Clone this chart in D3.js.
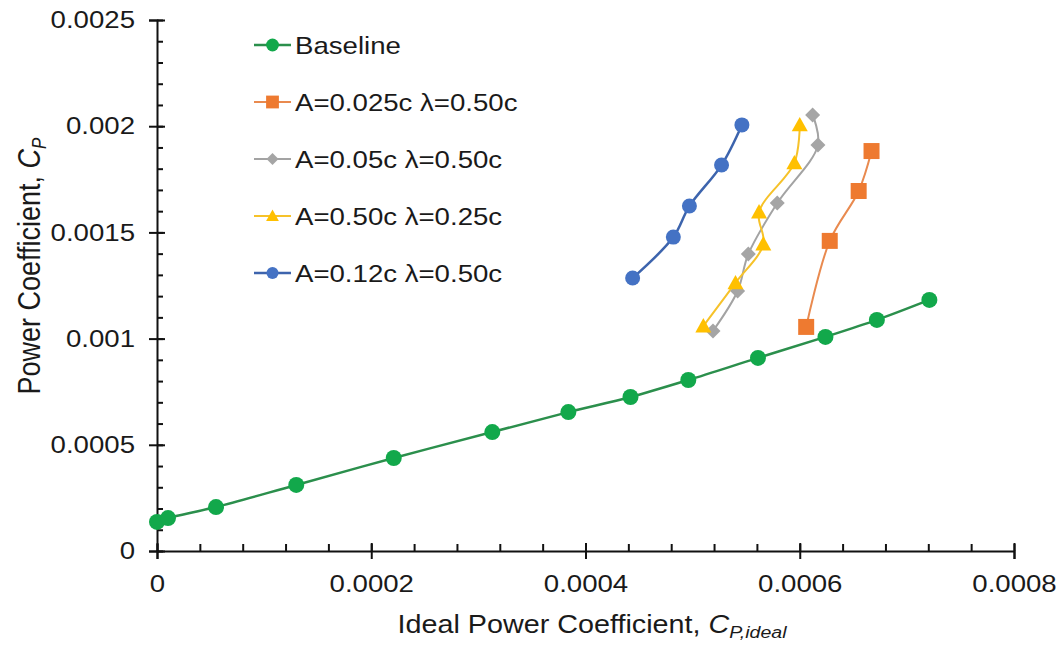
<!DOCTYPE html>
<html><head><meta charset="utf-8">
<script src="https://cdn.jsdelivr.net/npm/d3@7"></script>
<style>
html,body{margin:0;padding:0;background:#fff;}
text{font-family:"Liberation Sans",Arial,sans-serif;fill:#1a1a1a;}
</style></head>
<body>
<svg id="chart" width="1063" height="645"></svg>
<script>
// ---- data ----
const xTicks = [0, 0.0002, 0.0004, 0.0006, 0.0008];
const xTickLabels = ["0", "0.0002", "0.0004", "0.0006", "0.0008"];
const yTicks = [0, 0.0005, 0.001, 0.0015, 0.002, 0.0025];
const yTickLabels = ["0", "0.0005", "0.001", "0.0015", "0.002", "0.0025"];

const seriesNames = ["Baseline", "A=0.025c \u03bb=0.50c", "A=0.05c \u03bb=0.50c", "A=0.50c \u03bb=0.25c", "A=0.12c \u03bb=0.50c"];

const baselineX = [0.0000000, 0.0000103, 0.0000551, 0.0001300, 0.0002210, 0.0003130, 0.0003840, 0.0004420, 0.0004960, 0.0005610, 0.0006240, 0.0006720, 0.0007210];
const baselineY = [0.000137, 0.000155, 0.000207, 0.000311, 0.000438, 0.000560, 0.000654, 0.000725, 0.000805, 0.000909, 0.001008, 0.001088, 0.001182];

const a025X = [0.000606, 0.000628, 0.000655, 0.000667];
const a025Y = [0.001055, 0.001460, 0.001695, 0.001883];

const a05X = [0.000519, 0.000542, 0.000552, 0.000579, 0.000617, 0.000612];
const a05Y = [0.001036, 0.001224, 0.001398, 0.001638, 0.001911, 0.002053];

const a50X = [0.000510, 0.000540, 0.000566, 0.000562, 0.000595, 0.000600];
const a50Y = [0.001059, 0.001262, 0.001445, 0.001596, 0.001827, 0.002006];

const a12X = [0.000444, 0.000482, 0.000497, 0.000527, 0.000546];
const a12Y = [0.001285, 0.001478, 0.001624, 0.001817, 0.002006];

// ---- styles ----
const S = 1.15; // horizontal text stretch
const styles = [
  {name: seriesNames[0], xs: baselineX, ys: baselineY, line: "#2b8f4c", fill: "#12a84b", shape: "circle", size: 8, lw: 2.5},
  {name: seriesNames[1], xs: a025X, ys: a025Y, line: "#e98a4f", fill: "#ee7a30", shape: "square", size: 8, lw: 2},
  {name: seriesNames[2], xs: a05X, ys: a05Y, line: "#a3a3a3", fill: "#a5a5a5", shape: "diamond", size: 7.5, lw: 2},
  {name: seriesNames[3], xs: a50X, ys: a50Y, line: "#f6c22a", fill: "#ffc000", shape: "triangle", size: 8, lw: 2},
  {name: seriesNames[4], xs: a12X, ys: a12Y, line: "#3d64ad", fill: "#4472c4", shape: "circle", size: 7.5, lw: 2.5}
];

const svg = d3.select("#chart");
const x = d3.scaleLinear().domain([0, 0.0008]).range([157, 1014]);
const y = d3.scaleLinear().domain([0, 0.0025]).range([551, 20]);

function markerPath(shape, r) {
  if (shape === "square") return `M${-r},${-r}h${2*r}v${2*r}h${-2*r}Z`;
  if (shape === "diamond") return `M0,${-r}L${r},0L0,${r}L${-r},0Z`;
  if (shape === "triangle") { const h = r * 1.0; return `M0,${-h}L${r},${h*0.8}L${-r},${h*0.8}Z`; }
  return d3.symbol().type(d3.symbolCircle).size(Math.PI * r * r)();
}

// ---- axes ----
const gx = svg.append("g").attr("transform", `translate(0,${y(0)})`);
gx.call(d3.axisBottom(x).tickValues(xTicks).tickFormat((d, i) => xTickLabels[i]).tickSize(8).tickPadding(16));
const gxm = svg.append("g").attr("transform", `translate(0,${y(0)})`);
gxm.call(d3.axisTop(x).tickValues(d3.range(0, 0.00081, 0.00004)).tickFormat("").tickSize(7));
gxm.select(".domain").remove();

const gy = svg.append("g").attr("transform", `translate(${x(0)},0)`);
gy.call(d3.axisLeft(y).tickValues(yTicks).tickFormat((d, i) => yTickLabels[i]).tickSize(8).tickPadding(14));
const gym = svg.append("g").attr("transform", `translate(${x(0)},0)`);
gym.call(d3.axisRight(y).tickValues(d3.range(0, 0.00251, 0.0001)).tickFormat("").tickSize(6));
gym.select(".domain").remove();

[gx, gy, gxm, gym].forEach(g => {
  g.selectAll(".domain").attr("stroke", "#111").attr("stroke-width", 2);
  g.selectAll("line").attr("stroke", "#111").attr("stroke-width", 2);
});
// cross major ticks
gx.selectAll(".tick line").attr("y1", -8).attr("y2", 8);
gy.selectAll(".tick line").attr("x1", -8).attr("x2", 8);

function stretchText(sel) {
  sel.each(function () {
    const t = d3.select(this);
    const tx = +t.attr("x") || 0;
    t.attr("x", tx / S).attr("transform", `scale(${S},1)`);
  });
}
gx.selectAll(".tick text").attr("font-size", 24).attr("font-family", "Liberation Sans, Arial, sans-serif").attr("fill", "#1a1a1a");
gy.selectAll(".tick text").attr("font-size", 24).attr("font-family", "Liberation Sans, Arial, sans-serif").attr("fill", "#1a1a1a");
stretchText(gx.selectAll(".tick text"));
stretchText(gy.selectAll(".tick text"));

// ---- axis titles ----
const xt = svg.append("text").attr("transform", `translate(592,633) scale(${S},1)`)
  .attr("text-anchor", "middle").attr("font-size", 25);
xt.append("tspan").text("Ideal Power Coefficient, ");
xt.append("tspan").attr("font-style", "italic").text("C");
xt.append("tspan").attr("font-style", "italic").attr("font-size", 17).attr("dy", 5).text("P,ideal");

const yt = svg.append("text").attr("transform", `translate(40,266) rotate(-90) scale(1,${S})`)
  .attr("text-anchor", "middle").attr("font-size", 27);
yt.append("tspan").text("Power Coefficient, ");
yt.append("tspan").attr("font-style", "italic").text("C");
yt.append("tspan").attr("font-style", "italic").attr("font-size", 17).attr("dy", 5).text("P");

// ---- series ----
const curve = d3.curveCatmullRom.alpha(0.5);
styles.forEach(s => {
  const pts = s.xs.map((v, i) => [v, s.ys[i]]);
  const line = d3.line().x(d => x(d[0])).y(d => y(d[1])).curve(curve);
  svg.append("path").attr("d", line(pts)).attr("fill", "none").attr("stroke", s.line).attr("stroke-width", s.lw);
});
styles.forEach(s => {
  const pts = s.xs.map((v, i) => [v, s.ys[i]]);
  svg.append("g").selectAll("path").data(pts).join("path")
    .attr("transform", d => `translate(${x(d[0])},${y(d[1])})`)
    .attr("d", markerPath(s.shape, s.size))
    .attr("fill", s.fill);
});

// ---- legend ----
const legend = svg.append("g");
styles.forEach((s, i) => {
  const cy = 45 + i * 57;
  legend.append("line").attr("x1", 254).attr("x2", 291).attr("y1", cy).attr("y2", cy)
    .attr("stroke", s.line).attr("stroke-width", s.lw);
  legend.append("path").attr("transform", `translate(272.5,${cy})`)
    .attr("d", markerPath(s.shape, s.size * 0.8)).attr("fill", s.fill);
  legend.append("text").attr("transform", `translate(295,${cy + 8.5}) scale(${S},1)`)
    .attr("font-size", 24).text(s.name);
});
</script>
</body></html>
